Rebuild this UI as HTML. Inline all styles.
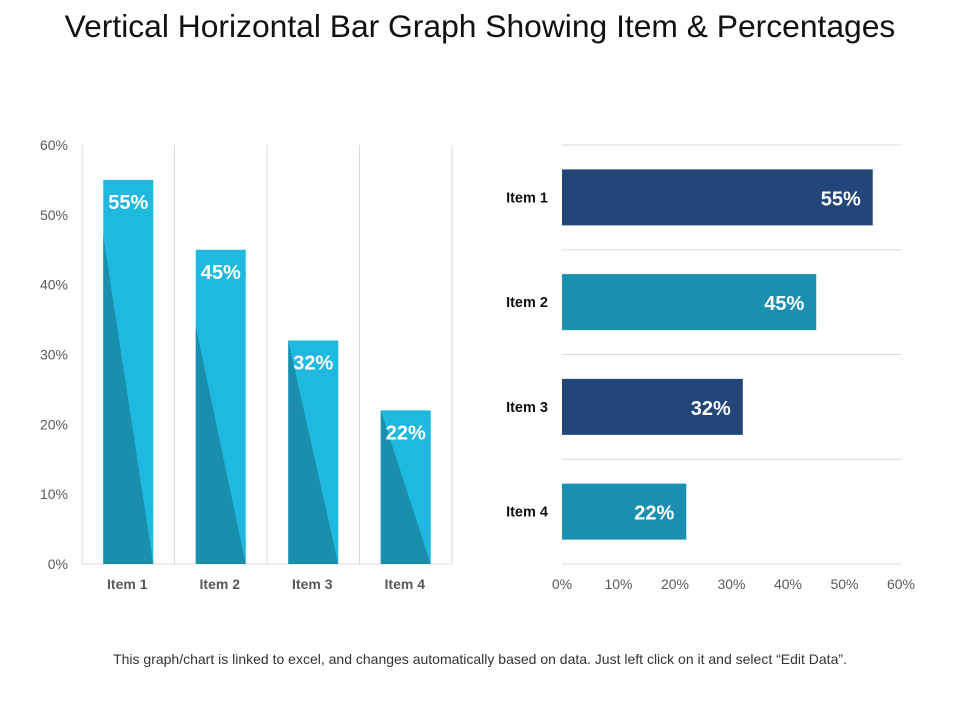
<!DOCTYPE html>
<html><head><meta charset="utf-8"><style>
body{margin:0;background:#fff;font-family:"Liberation Sans",Arial,sans-serif}
</style></head><body>
<svg id="c" width="960" height="720" xmlns="http://www.w3.org/2000/svg" font-family="Liberation Sans, Arial, sans-serif">
<text x="480" y="37" text-anchor="middle" font-size="31.8" fill="#111">Vertical Horizontal Bar Graph Showing Item &amp; Percentages</text>
<text x="480" y="664" text-anchor="middle" font-size="14" fill="#333">This graph/chart is linked to excel, and changes automatically based on data. Just left click on it and select “Edit Data”.</text>
<g id="left"></g><g id="right"></g>
</svg>
<script>
const categories=["Item 1","Item 2","Item 3","Item 4"];
const values=[55,45,32,22];
const shadeTop=[47,34,32,22];
const ticks=[0,10,20,30,40,50,60];
const NS="http://www.w3.org/2000/svg";
function mk(p,t,a){const e=document.createElementNS(NS,t);for(const k in a)e.setAttribute(k,a[k]);p.appendChild(e);return e;}
// left chart
const L=document.getElementById('left');
const lx0=82,lx1=452,ly0=564,ly1=145;
const ly=v=>ly0-(v/60)*(ly0-ly1);
const band=(lx1-lx0)/categories.length;
for(let i=0;i<=categories.length;i++){const l=mk(L,'line',{x1:lx0+i*band,x2:lx0+i*band,y1:ly1,y2:ly0,stroke:'#d9d9d9','stroke-width':1});

}
const base=mk(L,'line',{x1:lx0,x2:lx1,y1:ly0,y2:ly0,stroke:'#d9d9d9'});


ticks.forEach(t=>{const e=mk(L,'text',{x:68,y:ly(t)+5,'text-anchor':'end','font-size':14,fill:'#595959'});e.textContent=t+'%';

});
categories.forEach((c,i)=>{
const bw=50,x=lx0+band*i+(band-bw)/2;
const r=mk(L,'rect',{x:x,y:ly(values[i]),width:bw,height:ly0-ly(values[i]),fill:'#1fb8df'});


const p=mk(L,'polygon',{points:`${x},${ly(shadeTop[i])} ${x},${ly0} ${x+bw},${ly0}`,fill:'#1a8fad'});


const v=mk(L,'text',{x:x+bw/2,y:ly(values[i])+29,'text-anchor':'middle','font-size':20,'font-weight':'bold',fill:'#fff'});v.textContent=values[i]+'%';


const t=mk(L,'text',{x:x+bw/2-1,y:589,'text-anchor':'middle','font-size':14,'font-weight':'bold',fill:'#595959'});t.textContent=c;


});
// right chart
const R=document.getElementById('right');
const rx0=562,rx1=901,ry0=145,ry1=564;
const rx=v=>rx0+(v/60)*(rx1-rx0);
const rb=(ry1-ry0)/categories.length;
for(let i=0;i<=categories.length;i++){const l=mk(R,'line',{x1:rx0,x2:rx1,y1:ry0+i*rb,y2:ry0+i*rb,stroke:'#d9d9d9'});

}
ticks.forEach(t=>{const e=mk(R,'text',{x:rx(t),y:589,'text-anchor':'middle','font-size':14,fill:'#595959'});e.textContent=t+'%';

});
const cols=['#22467a','#1a8faf'];
categories.forEach((c,i)=>{
const bh=56,y=ry0+rb*i+(rb-bh)/2;
const r=mk(R,'rect',{x:rx0,y:y,width:rx(values[i])-rx0,height:bh,fill:cols[i%2]});


const v=mk(R,'text',{x:rx(values[i])-12,y:y+bh/2+8,'text-anchor':'end','font-size':20,'font-weight':'bold',fill:'#fff'});v.textContent=values[i]+'%';


const t=mk(R,'text',{x:548,y:y+bh/2+5,'text-anchor':'end','font-size':14.5,'font-weight':'bold',fill:'#111'});t.textContent=c;


});
</script>
</body></html>
